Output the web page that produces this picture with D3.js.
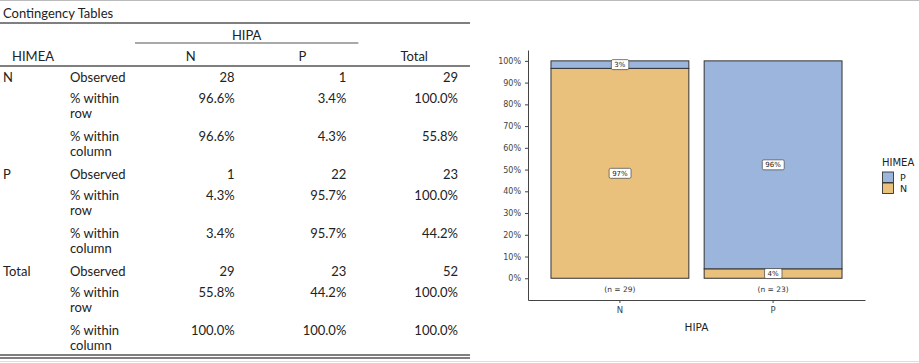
<!DOCTYPE html>
<html>
<head>
<meta charset="utf-8">
<script src="https://cdn.jsdelivr.net/npm/d3@7"></script>
<style>
  body { margin: 0; background: #fff; }
  svg { display: block; }
  .tbl text { font-family: Lato, "Open Sans", sans-serif; font-size: 13px; fill: #222; }
  .chart text { font-family: "DejaVu Sans", sans-serif; }
</style>
</head>
<body>
<div id="wrap"></div>
<script>
// HIMEA (rows) x HIPA (columns)
const himeaLevels = ['N', 'P'];
const hipaLevels = ['N', 'P'];
const observedN = [28, 1];   // HIMEA = N
const observedP = [1, 22];   // HIMEA = P
const statLabels = [['Observed'], ['% within', 'row'], ['% within', 'column']];
const yTicks = [0, 0.1, 0.2, 0.3, 0.4, 0.5, 0.6, 0.7, 0.8, 0.9, 1];

const width = 919;
const height = 363;

const svg = d3.select('#wrap').append('svg')
   .attr('width', width)
   .attr('height', height);

// page borders
svg.append('line').attr('x1', 0).attr('x2', width).attr('y1', 0.5).attr('y2', 0.5)
   .attr('stroke', '#bbb');
svg.append('line').attr('x1', 0).attr('x2', width).attr('y1', 361.5).attr('y2', 361.5)
   .attr('stroke', '#ddd');

//////////////////// TABLE ////////////////////

const counts = [observedN, observedP];
const rowTot = counts.map(r => d3.sum(r));
const colTot = hipaLevels.map((c, j) => d3.sum(counts, r => r[j]));
const grand = d3.sum(rowTot);
const pct = d3.format('.1%');

// each group: [observed, % within row, % within column] for N, P, Total columns
const groups = himeaLevels.map((lev, i) => ({
   label: lev,
   cells: [
      [...counts[i], rowTot[i]].map(String),
      [...counts[i].map(v => v / rowTot[i]), 1].map(pct),
      [...counts[i].map((v, j) => v / colTot[j]), rowTot[i] / grand].map(pct)
   ]
}));
groups.push({
   label: 'Total',
   cells: [
      [...colTot, grand].map(String),
      [...colTot.map(v => v / grand), 1].map(pct),
      [...colTot.map(() => 1), 1].map(pct)
   ]
});

const tbl = svg.append('g').attr('class', 'tbl');

const colX = d3.scaleBand().domain([...hipaLevels, 'Total']).range([135, 470]);
const groupY = d3.scaleBand().domain(groups.map(d => d.label)).range([66, 357]);
const lineOff = [[11], [32, 47], [70, 85]];

tbl.append('text').attr('x', 3).attr('y', 13).attr('dy', '0.35em').text('Contingency Tables');

const rule = (x1, x2, y, w) => tbl.append('line')
   .attr('x1', x1).attr('x2', x2).attr('y1', y).attr('y2', y)
   .attr('stroke', '#555').attr('stroke-width', w);

rule(0, 470, 23, 1.5);
rule(colX('N'), colX('P') + colX.bandwidth(), 43, 1.2);
rule(0, 470, 66, 1.5);
rule(0, 470, 355, 1.3);
rule(0, 470, 358, 1.3);

tbl.append('text').attr('x', colX('N') + colX.bandwidth()).attr('y', 35).attr('dy', '0.35em')
   .attr('text-anchor', 'middle').text('HIPA');
tbl.append('text').attr('x', 12).attr('y', 56).attr('dy', '0.35em').text('HIMEA');
colX.domain().forEach(c => {
   tbl.append('text').attr('x', colX(c) + colX.bandwidth() / 2).attr('y', 56).attr('dy', '0.35em')
      .attr('text-anchor', 'middle').text(c);
});

groups.forEach(g => {
   const y0 = groupY(g.label);
   tbl.append('text').attr('x', 3).attr('y', y0 + lineOff[0][0]).attr('dy', '0.35em').text(g.label);
   statLabels.forEach((lines, k) => {
      lines.forEach((t, m) => {
         tbl.append('text').attr('x', 70).attr('y', y0 + lineOff[k][m]).attr('dy', '0.35em').text(t);
      });
      g.cells[k].forEach((v, j) => {
         tbl.append('text')
            .attr('x', colX(colX.domain()[j]) + colX.bandwidth() - 12)
            .attr('y', y0 + lineOff[k][0]).attr('dy', '0.35em')
            .attr('text-anchor', 'end').text(v);
      });
   });
});

//////////////////// CHART ////////////////////

const colors = { P: '#9bb5dc', N: '#eac17c' };

// proportions of HIMEA within each HIPA column
const stackData = hipaLevels.map((c, j) => ({
   hipa: c,
   n: colTot[j],
   N: counts[0][j] / colTot[j],
   P: counts[1][j] / colTot[j]
}));
const series = d3.stack().keys(['N', 'P'])(stackData);

const chart = svg.append('g').attr('class', 'chart');

const x = d3.scaleBand().domain(hipaLevels).range([528, 865])
   .paddingInner(0.1).paddingOuter(0.15);
const y = d3.scaleLinear().domain([-0.1, 1.05]).range([300, 50]);

const yAxis = d3.axisLeft(y).tickValues(yTicks).tickFormat(d3.format('.0%'))
   .tickSize(3).tickSizeOuter(0).tickPadding(4);
const xAxis = d3.axisBottom(x).tickSize(3).tickSizeOuter(0).tickPadding(4);

chart.append('g').attr('transform', 'translate(528,0)').call(yAxis)
   .call(g => g.select('.domain').attr('stroke', '#444'))
   .call(g => g.selectAll('.tick line').attr('stroke', '#444'))
   .call(g => g.selectAll('.tick text').attr('fill', '#444').style('font-size', '8px'));

chart.append('g').attr('transform', 'translate(0,300)').call(xAxis)
   .call(g => g.select('.domain').attr('stroke', '#444'))
   .call(g => g.selectAll('.tick line').attr('stroke', '#444'))
   .call(g => g.selectAll('.tick text').attr('fill', '#444').style('font-size', '8.5px'));

series.forEach(s => {
   chart.append('g').selectAll('rect')
      .data(s)
      .enter()
      .append('rect')
         .attr('x', d => x(d.data.hipa))
         .attr('width', x.bandwidth())
         .attr('y', d => y(d[1]))
         .attr('height', d => y(d[0]) - y(d[1]))
         .attr('fill', colors[s.key])
         .attr('stroke', '#333')
         .attr('stroke-width', 1);
});

// percentage labels
series.forEach(s => {
   s.forEach(d => {
      const cx = x(d.data.hipa) + x.bandwidth() / 2;
      const cy = y((d[0] + d[1]) / 2);
      const txt = d3.format('.0%')(d[1] - d[0]);
      const lab = chart.append('g');
      const t = lab.append('text').attr('x', cx).attr('y', cy).attr('dy', '0.35em')
         .attr('text-anchor', 'middle').style('font-size', '7px').attr('fill', '#222').text(txt);
      const bb = t.node().getBBox();
      lab.insert('rect', 'text')
         .attr('x', bb.x - 3).attr('y', cy - 5)
         .attr('width', bb.width + 6).attr('height', 10)
         .attr('rx', 1.5).attr('fill', '#fff').attr('stroke', '#444').attr('stroke-width', 0.7);
   });
});

// sample size labels
chart.selectAll('.nlab')
   .data(stackData)
   .enter()
   .append('text')
      .attr('x', d => x(d.hipa) + x.bandwidth() / 2)
      .attr('y', y(-0.05))
      .attr('dy', '0.35em')
      .attr('text-anchor', 'middle')
      .style('font-size', '7.5px')
      .attr('fill', '#333')
      .text(d => `(n = ${d.n})`);

chart.append('text').attr('x', (528 + 865) / 2).attr('y', 327).attr('dy', '0.35em')
   .attr('text-anchor', 'middle').style('font-size', '10.5px').attr('fill', '#222').text('HIPA');

// legend
const leg = chart.append('g').attr('transform', 'translate(882,162)');
leg.append('text').attr('y', 0).attr('dy', '0.35em').style('font-size', '10px').attr('fill', '#222')
   .text('HIMEA');
['P', 'N'].forEach((k, i) => {
   leg.append('rect').attr('x', 0.5).attr('y', 10 + i * 11).attr('width', 11).attr('height', 10.5)
      .attr('fill', colors[k]).attr('stroke', '#333').attr('stroke-width', 0.9);
   leg.append('text').attr('x', 18).attr('y', 15.5 + i * 11).attr('dy', '0.35em')
      .style('font-size', '9.5px').attr('fill', '#222').text(k);
});
</script>
</body>
</html>
